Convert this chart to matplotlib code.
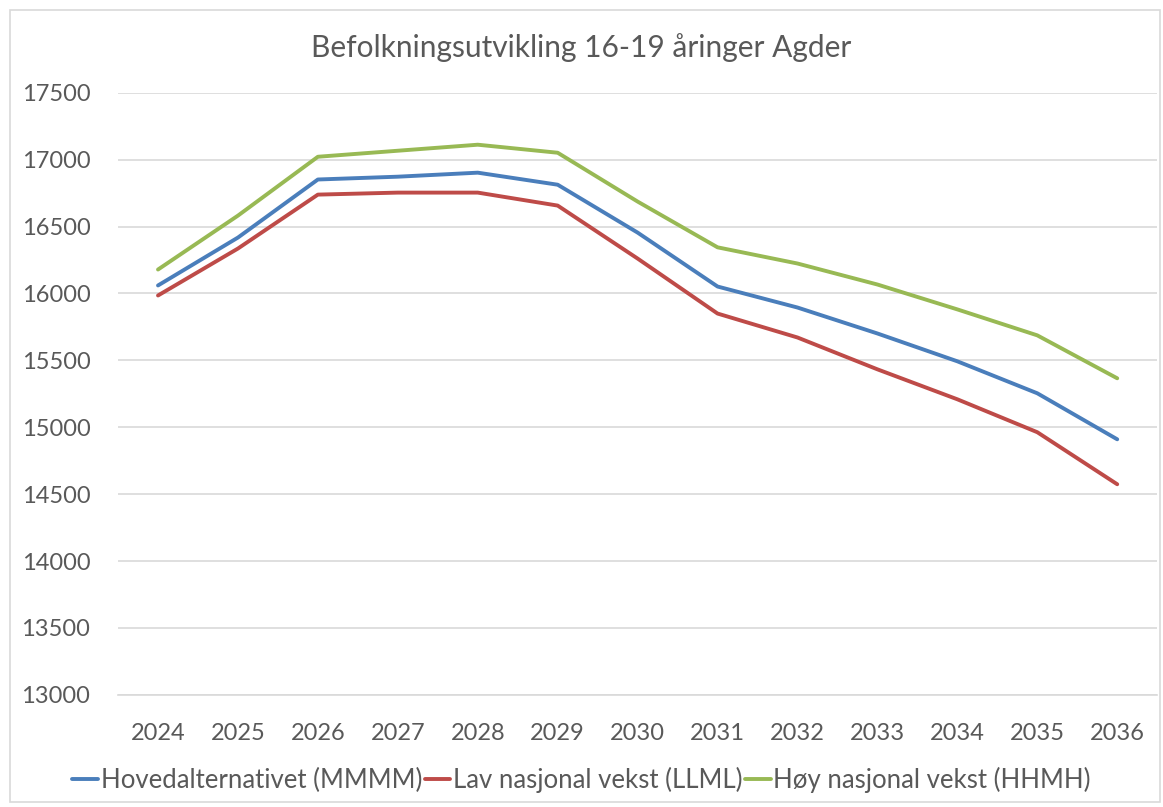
import matplotlib.pyplot as plt
from matplotlib.patches import Rectangle

# Data
years = [2024, 2025, 2026, 2027, 2028, 2029, 2030, 2031, 2032, 2033, 2034, 2035, 2036]
hoved = [16060, 16418, 16852, 16873, 16903, 16813, 16455, 16052, 15895, 15701, 15493, 15254, 14910]
lav = [15985, 16336, 16739, 16754, 16754, 16657, 16261, 15850, 15671, 15433, 15209, 14963, 14574]
hoy = [16179, 16582, 17022, 17067, 17112, 17052, 16687, 16345, 16224, 16067, 15881, 15687, 15366]
labels = ['Hovedalternativet (MMMM)', 'Lav nasjonal vekst (LLML)', 'Høy nasjonal vekst (HHMH)']
colors = ['#4a7ebb', '#be4b48', '#98b954']

plt.rcParams['font.family'] = ['Lato', 'DejaVu Sans']
text_color = '#595959'

fig = plt.figure(figsize=(11.63, 8.07), dpi=100)
ax = fig.add_axes([0.1015, 0.139, 0.8935, 0.746])

for series, lab, col in zip([hoved, lav, hoy], labels, colors):
    ax.plot(years, series, color=col, linewidth=2.8, label=lab, solid_capstyle='round')

ax.set_xlim(2023.5, 2036.5)
ax.set_ylim(13000, 17500)
ax.set_xticks(years)
ax.set_yticks(range(13000, 17501, 500))
ax.yaxis.grid(True, color='#d9d9d9', linewidth=1.2)
ax.set_axisbelow(True)
for s in ax.spines.values():
    s.set_visible(False)
ax.spines['bottom'].set_visible(True)
ax.spines['bottom'].set_color('#d9d9d9')
ax.spines['bottom'].set_linewidth(1.2)
ax.tick_params(length=0, labelsize=17, colors=text_color)
ax.tick_params(axis='x', pad=20)
ax.tick_params(axis='y', pad=20)

fig.text(0.5, 0.941, 'Befolkningsutvikling 16-19 åringer Agder', ha='center', va='center',
         fontsize=21.5, color=text_color)

fig.legend(loc='center', bbox_to_anchor=(0.5, 0.034), ncol=3, frameon=False,
           fontsize=18.5, handlelength=1.0, handletextpad=0.1, columnspacing=0.1,
           labelcolor=text_color)

# light border around the chart area
fig.patches.append(Rectangle((0.009, 0.006), 0.988, 0.982, transform=fig.transFigure,
                             fill=False, edgecolor='#d9d9d9', linewidth=1.2))

fig.savefig('out.png', dpi=100)
